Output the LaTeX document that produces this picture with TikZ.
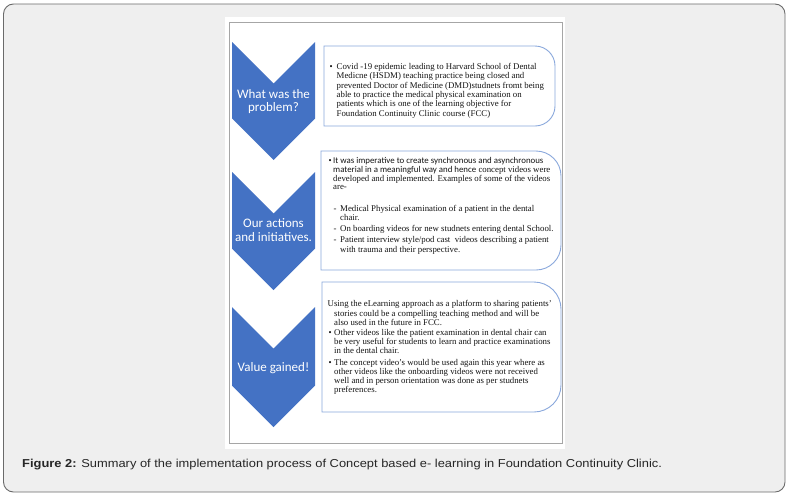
\documentclass[tikz,border=0pt]{standalone}
\usepackage{fontspec}
\setmainfont{Liberation Serif}
\newfontfamily\carl{Carlito}
\newfontfamily\arl{Liberation Sans}[FakeStretch=1.12]
\definecolor{chev}{HTML}{4472C4}
\definecolor{boxln}{HTML}{8AA8DC}
\definecolor{framebg}{HTML}{EFEFEF}
\definecolor{frameln}{HTML}{6A6A6A}
\definecolor{panelln}{HTML}{A6A6A6}
\begin{document}
\begin{tikzpicture}[x=1pt,y=-1pt,
  chevshape/.style={fill=chev,draw=none},
  infobox/.style={draw=boxln,line width=0.9pt,fill=white},
  chevtxt/.style={text=white,font=\carl\fontsize{13}{15}\selectfont,inner sep=0pt,anchor=base},
  body/.style={font=\fontsize{8.8}{9.3}\selectfont,inner sep=0pt,anchor=base west,text=black!92},
  bodysans/.style={font=\carl\fontsize{8.85}{9.3}\selectfont,inner sep=0pt,anchor=base west,text=black!92},
  captxt/.style={font=\arl\fontsize{11.5}{13}\selectfont,inner sep=0pt,anchor=base west,text=black!85}]
\useasboundingbox (0,0) rectangle (791,498);
% outer frame
\draw[fill=framebg,draw=frameln,line width=0.9pt,rounded corners=10pt] (3.5,4) rectangle (785,492);
% white panel
\fill[white] (225,17) rectangle (565,449);
\draw[panelln,line width=0.8pt] (229,22) rectangle (562,443);
% chevrons
\draw[chevshape] (232,42) -- (273.5,83.5) -- (315,42) -- (315,118.5) -- (273.5,160) -- (232,118.5) -- cycle;
\draw[chevshape] (232,172) -- (273.5,213.5) -- (315,172) -- (315,248.5) -- (273.5,290) -- (232,248.5) -- cycle;
\draw[chevshape] (232,307) -- (273.5,348.5) -- (315,307) -- (315,385.5) -- (273.5,427) -- (232,385.5) -- cycle;
\node[chevtxt] (t1a) at (273.5,98.5) {What was the};
\node[chevtxt] (t1b) at (273.5,111) {problem?};
\node[chevtxt] (t2a) at (273.5,227.5) {Our actions};
\node[chevtxt] (t2b) at (273.5,241.5) {and initiatives.};
\node[chevtxt] (t3a) at (273.5,371) {Value gained!};
% boxes
\draw[infobox] (324,46) -- (535,46) arc[start angle=-90,end angle=0,radius=20] -- (555,106) arc[start angle=0,end angle=90,radius=20] -- (324,126) -- cycle;
\draw[infobox] (321,151) -- (536,151) arc[start angle=-90,end angle=0,radius=25] -- (561,245) arc[start angle=0,end angle=90,radius=25] -- (321,270) -- cycle;
\draw[infobox] (322,282) -- (534,282) arc[start angle=-90,end angle=0,radius=27] -- (561,385) arc[start angle=0,end angle=90,radius=27] -- (322,412) -- cycle;
% box 1 text
\node[body] (a0) at (329.5,69.5) {\textbullet};
\node[body] (a1) at (336.5,69.5) {Covid -19 epidemic leading to Harvard School of Dental};
\node[body] (a2) at (336.5,78.8) {Medicne (HSDM) teaching practice being closed and};
\node[body] (a3) at (336.5,88.1) {prevented Doctor of Medicine (DMD)studnets fromt being};
\node[body] (a4) at (336.5,97.4) {able to practice the medical physical examination on};
\node[body] (a5) at (336.5,106.7) {patients which is one of the learning objective for};
\node[body] (a6) at (336.5,116) {Foundation Continuity Clinic course (FCC)};
% box 2 text
\node[body] (b0) at (328.5,163) {\textbullet};
\node[bodysans] (b1) at (333,163) {It was imperative to create synchronous and asynchronous};
\node[body] (b2) at (333,172.5) {{\carl\fontsize{8.85}{9.3}\selectfont material in a meaningful way and hence} concept videos were};
\node[body] (b3) at (333,181) {developed and implemented. Examples of some of the videos};
\node[body] (b4) at (333,189) {are-};
\node[body] (b5d) at (333.5,211.5) {-};
\node[body] (b5) at (340,211.5) {Medical Physical examination of a patient in the dental};
\node[body] (b6) at (340,220.5) {chair.};
\node[body] (b7d) at (333.5,231) {-};
\node[body] (b7) at (340,231) {On boarding videos for new studnets entering dental School.};
\node[body] (b8d) at (333.5,242.5) {-};
\node[body] (b8) at (340,242.5) {Patient interview style/pod cast\ \ videos describing a patient};
\node[body] (b9) at (340,252) {with trauma and their perspective.};
% box 3 text
\node[body] (c1) at (327.5,306.5) {Using the eLearning approach as a platform to sharing patients'};
\node[body] (c2) at (334,316) {stories could be a compelling teaching method and will be};
\node[body] (c3) at (334,325.2) {also used in the future in FCC.};
\node[body] (c4d) at (328.5,335.5) {\textbullet};
\node[body] (c4) at (334,335.5) {Other videos like the patient examination in dental chair can};
\node[body] (c5) at (334,344.7) {be very useful for students to learn and practice examinations};
\node[body] (c6) at (334,353.9) {in the dental chair.};
\node[body] (c7d) at (328.5,365.2) {\textbullet};
\node[body] (c7) at (334,365.2) {The concept video's would be used again this year where as};
\node[body] (c8) at (334,374.3) {other videos like the onboarding videos were not received};
\node[body] (c9) at (334,383.4) {well and in person orientation was done as per studnets};
\node[body] (c10) at (334,392.5) {preferences.};
% caption
\node[captxt] (cap) at (22,467) {\textbf{Figure 2:} Summary of the implementation process of Concept based e- learning in Foundation Continuity Clinic.};
\end{tikzpicture}
\end{document}
